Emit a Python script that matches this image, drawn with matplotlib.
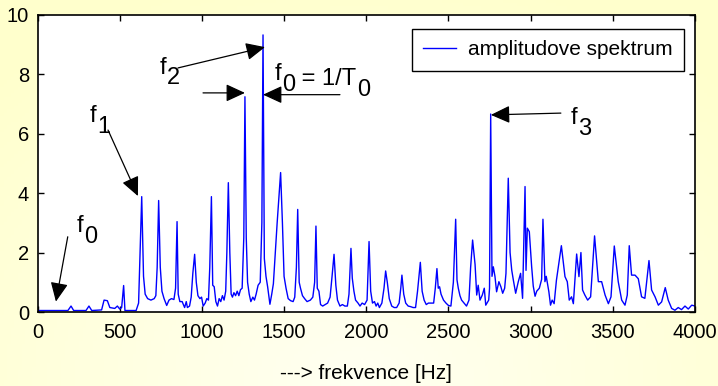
import numpy as np
import matplotlib
matplotlib.use("Agg")
import matplotlib.pyplot as plt

plt.rcParams['font.family'] = ['Liberation Sans', 'DejaVu Sans']

# ---- data ----
freq = [0, 100, 185, 204, 220, 295, 313, 330, 390, 405, 425, 440, 470, 486, 500, 512, 524, 532, 600, 615,
        634, 645, 655, 670, 690, 710, 720, 728,
        737, 747, 757, 770, 786, 800, 815, 830, 840,
        849, 856, 866, 880, 895, 905, 912, 925, 935, 945,
        956, 966, 976, 988, 998, 1008, 1020, 1030, 1040, 1048,
        1058, 1066, 1075, 1085, 1095, 1105, 1115, 1125, 1135, 1145, 1152,
        1161, 1170, 1178, 1186, 1195, 1205, 1215, 1225, 1235, 1245, 1255,
        1262, 1270, 1278, 1288, 1298, 1310, 1320, 1330, 1342, 1355, 1365,
        1372, 1380, 1390, 1400, 1414, 1425, 1435, 1458,
        1479, 1490, 1500, 1512, 1525, 1540, 1555, 1565, 1575,
        1583, 1592, 1600, 1612, 1625, 1640, 1660, 1675, 1686,
        1694, 1702, 1712, 1722, 1735, 1750, 1765, 1780, 1792,
        1804, 1815, 1825, 1840, 1855, 1870, 1885, 1895,
        1907, 1915, 1925, 1935, 1950, 1962, 1975, 1990, 2005,
        2017, 2027, 2038, 2050, 2060, 2070, 2080, 2095, 2108,
        2118, 2128, 2140, 2155, 2170, 2185, 2200, 2210,
        2217, 2228, 2240, 2255, 2270, 2285, 2300, 2312,
        2329, 2340, 2352, 2365, 2378, 2395, 2410, 2420,
        2430, 2438, 2446, 2455, 2470, 2485, 2500, 2515, 2530,
        2544, 2552, 2560, 2570, 2580, 2595, 2610, 2625, 2635,
        2647, 2655, 2662, 2672, 2681, 2692, 2706, 2718, 2727, 2745, 2750,
        2757, 2765, 2773, 2783, 2793, 2807, 2819, 2830, 2842, 2850,
        2864, 2875, 2885, 2895, 2909, 2925, 2939, 2951,
        2966, 2972, 2980, 2992, 3006, 3016, 3027, 3037, 3053, 3067,
        3075, 3087, 3095, 3111, 3121, 3131, 3143, 3157,
        3187, 3209, 3223, 3235, 3249, 3260,
        3280, 3294, 3306, 3316, 3330, 3347, 3365,
        3389, 3412, 3432, 3453, 3473, 3489,
        3509, 3533, 3554, 3574, 3588,
        3600, 3614, 3635, 3655, 3675, 3695,
        3720, 3736, 3757, 3777, 3797,
        3819, 3837, 3858, 3878, 3898, 3918, 3939, 3959, 3980, 4000]
amp = [0.05, 0.05, 0.05, 0.2, 0.05, 0.05, 0.2, 0.05, 0.07, 0.4, 0.38, 0.15, 0.12, 0.2, 0.1, 0.15, 0.89, 0.05, 0.05, 0.3,
       3.88, 1.2, 0.6, 0.45, 0.4, 0.45, 0.55, 1.5,
       3.75, 1.5, 0.7, 0.45, 0.22, 0.4, 0.45, 0.42, 0.8,
       3.04, 0.6, 0.35, 0.35, 0.15, 0.35, 0.15, 0.2, 0.5, 1.3,
       1.94, 1.0, 0.55, 0.45, 0.5, 0.2, 0.3, 0.45, 0.4, 1.5,
       3.88, 0.9, 0.85, 0.35, 0.2, 0.45, 0.35, 0.55, 0.4, 0.7, 2.0,
       4.35, 2.0, 0.6, 0.5, 0.65, 0.55, 0.7, 0.55, 0.75, 0.8, 2.5,
       7.24, 2.5, 1.0, 0.6, 0.35, 0.5, 0.4, 0.6, 0.9, 1.0, 3.0,
       9.32, 1.8, 1.2, 0.85, 0.26, 0.6, 0.95, 3.0,
       4.69, 3.0, 1.2, 0.8, 0.45, 0.38, 0.35, 0.5, 1.5,
       3.45, 1.0, 0.8, 0.55, 0.45, 0.35, 0.4, 0.5, 1.0,
       2.89, 0.8, 0.7, 0.25, 0.2, 0.25, 0.3, 0.5, 1.2,
       1.94, 0.9, 0.4, 0.2, 0.25, 0.2, 0.2, 0.6,
       2.14, 1.14, 0.7, 0.4, 0.3, 0.2, 0.3, 0.25, 0.4,
       2.37, 0.7, 0.3, 0.35, 0.2, 0.3, 0.15, 0.3, 0.8,
       1.38, 1.0, 0.45, 0.2, 0.15, 0.15, 0.3, 0.8,
       1.24, 0.6, 0.3, 0.2, 0.18, 0.15, 0.15, 0.7,
       1.67, 0.7, 0.4, 0.25, 0.3, 0.3, 0.3, 0.8,
       1.46, 0.8, 0.85, 0.6, 0.4, 0.3, 0.22, 0.2, 1.0,
       3.12, 1.08, 0.8, 0.55, 0.4, 0.3, 0.2, 0.4, 1.5,
       2.42, 2.0, 1.6, 0.57, 0.9, 0.4, 0.57, 0.8, 0.23, 0.4, 0.8,
       6.66, 1.2, 1.52, 1.2, 0.68, 1.02, 0.85, 0.63, 0.8, 1.3,
       4.50, 2.0, 1.41, 1.07, 0.63, 1.02, 1.3, 0.46,
       4.22, 1.4, 2.82, 2.7, 1.54, 0.87, 0.53, 0.7, 0.8, 1.1,
       3.12, 1.02, 1.2, 0.68, 0.23, 0.4, 0.28, 1.07,
       2.23, 1.19, 1.02, 0.4, 0.51, 0.28,
       1.95, 1.19, 2.0, 0.74, 0.57, 0.4, 0.51,
       2.56, 1.02, 1.02, 0.57, 0.28, 0.51,
       2.22, 1.02, 0.4, 0.23, 0.57,
       2.23, 1.24, 1.24, 1.12, 0.51, 0.46,
       1.73, 0.74, 0.51, 0.23, 0.34,
       0.82, 0.4, 0.12, 0.06, 0.15, 0.08, 0.2, 0.1, 0.23, 0.2]

x_ticks = [0, 500, 1000, 1500, 2000, 2500, 3000, 3500, 4000]
y_ticks = [0, 2, 4, 6, 8, 10]
series_label = "amplitudove spektrum"
x_label = "---> frekvence [Hz]"

# ---- figure ----
fig = plt.figure(figsize=(7.18, 3.86), dpi=100)

# pale yellow background with a soft gradient
bg = fig.add_axes([0, 0, 1, 1], zorder=-10)
gx, gy = np.meshgrid(np.linspace(0, 1, 200), np.linspace(0, 1, 120))
r = np.clip(np.sqrt(((gx - 0.5) / 0.75) ** 2 + ((gy - 0.0) / 1.1) ** 2), 0, 1)
c_in = np.array([1.0, 1.0, 0.95])
c_out = np.array([1.0, 1.0, 0.80])
img = c_in[None, None, :] * (1 - r[..., None]) + c_out[None, None, :] * r[..., None]
bg.imshow(img, extent=[0, 1, 0, 1], origin='lower', aspect='auto')
bg.set_axis_off()

ax = fig.add_axes([37.5 / 718, 1 - 312 / 386, 657.5 / 718, (312 - 14.7) / 386])
ax.set_facecolor('white')
ax.plot(freq, amp, color='#0000FF', lw=1.0, label=series_label)
ax.set_xlim(0, 4000)
ax.set_ylim(0, 10)
ax.set_xticks(x_ticks)
ax.set_yticks(y_ticks)
ax.tick_params(direction='in', length=4, width=1, top=True, right=True,
               labelsize=14.5, pad=6, colors='black')
ax.tick_params(axis='x', pad=8)
for s in ax.spines.values():
    s.set_linewidth(1.2)
    s.set_color('black')
ax.set_xlabel(x_label, fontsize=15, labelpad=16)

leg = ax.legend(loc='upper right', bbox_to_anchor=((684 - 37.5) / 657.5, (312 - 29) / 297.3),
                borderaxespad=0, fancybox=False, framealpha=1, edgecolor='black',
                fontsize=15, handlelength=1.6, handletextpad=0.55, borderpad=0.55)
leg.get_frame().set_linewidth(1.0)

arrow_kw = dict(arrowstyle='-|>,head_length=0.65,head_width=0.3', color='black',
                lw=0.9, shrinkA=0, shrinkB=0, mutation_scale=18)

def label(xy, main, sub, rest=None, rest_sub=None, fs=17):
    t = ax.text(xy[0], xy[1], main, fontsize=fs, ha='left', va='baseline')
    s = ax.annotate(sub, xy=(1, 0), xycoords=t, xytext=(0.5, -4), textcoords='offset points',
                    fontsize=fs, ha='left', va='baseline')
    if rest is not None:
        r_ = ax.annotate(rest, xy=(1, 0), xycoords=s, xytext=(0, 4), textcoords='offset points',
                         fontsize=fs, ha='left', va='bottom')
        ax.annotate(rest_sub, xy=(1, 0), xycoords=r_, xytext=(0.5, -4), textcoords='offset points',
                    fontsize=fs, ha='left', va='baseline')

# arrows
ax.annotate('', xy=(112, 0.35), xytext=(184, 2.53), arrowprops=arrow_kw)
ax.annotate('', xy=(611, 3.90), xytext=(429, 6.12), arrowprops=arrow_kw)
ax.annotate('', xy=(1384, 8.91), xytext=(855, 8.21), arrowprops=arrow_kw)
ax.annotate('', xy=(1262, 7.37), xytext=(1007, 7.37), arrowprops=arrow_kw)
ax.annotate('', xy=(1372, 7.31), xytext=(1840, 7.31), arrowprops=arrow_kw)
ax.annotate('', xy=(2758, 6.63), xytext=(3184, 6.69), arrowprops=arrow_kw)

label((238, 2.69), 'f', '0')
label((319, 6.39), 'f', '1')
label((745, 8.01), 'f', '2')
label((1445, 7.80), 'f', '0', ' = 1/T', '0')
label((3245, 6.32), 'f', '3')

fig.savefig('out.png', dpi=100)
